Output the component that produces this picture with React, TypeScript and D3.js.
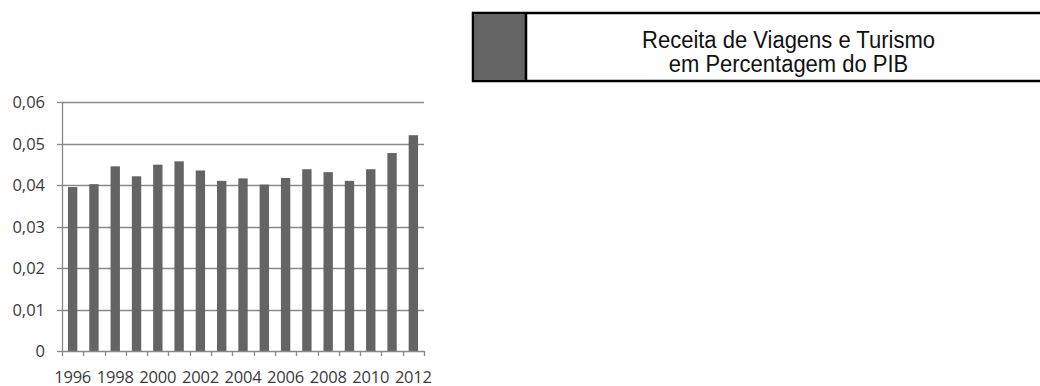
import { useEffect, useRef } from "react"
import * as d3 from "d3"

const years = [
  "1996", "1997", "1998", "1999", "2000", "2001", "2002", "2003", "2004",
  "2005", "2006", "2007", "2008", "2009", "2010", "2011", "2012",
]
const values = [
  0.0395, 0.0402, 0.0445, 0.0421, 0.0449, 0.0457, 0.0435, 0.041, 0.0416,
  0.0401, 0.0417, 0.0438, 0.0431, 0.041, 0.0438, 0.0477, 0.052,
]
const yTicks = [0, 0.01, 0.02, 0.03, 0.04, 0.05, 0.06]
const legendLines = ["Receita de Viagens e Turismo", "em Percentagem do PIB"]

export default function App() {
  const svgRef = useRef(null)

  useEffect(() => {
    if (!svgRef.current) return
    const svg = d3.select(svgRef.current)
    svg.selectAll("*").remove()

    const width = 1040
    const height = 386
    const plot = { left: 62, right: 424, top: 102, bottom: 351 }
    const barColor = "#646464"
    const gridColor = "#898989"
    const textColor = "#3a3a3a"

    const x = d3.scaleBand().domain(years).range([plot.left, plot.right]).paddingInner(0.56).paddingOuter(0.28)
    const xEdge = d3.scaleLinear().domain([0, years.length]).range([plot.left, plot.right])
    const y = d3.scaleLinear().domain([0, 0.06]).range([plot.bottom, plot.top])

    // gridlines
    svg.append("g")
      .selectAll("line")
      .data(yTicks.filter((d) => d > 0))
      .join("line")
      .attr("x1", plot.left)
      .attr("x2", plot.right)
      .attr("y1", (d) => Math.round(y(d)) + 0.5)
      .attr("y2", (d) => Math.round(y(d)) + 0.5)
      .attr("stroke", gridColor)
      .attr("stroke-width", 1.3)

    // bars
    svg.append("g")
      .selectAll("rect")
      .data(values)
      .join("rect")
      .attr("x", (d, i) => x(years[i]))
      .attr("y", (d) => y(d))
      .attr("width", x.bandwidth())
      .attr("height", (d) => plot.bottom - y(d))
      .attr("fill", barColor)

    // y axis
    svg.append("line")
      .attr("x1", plot.left + 0.5).attr("x2", plot.left + 0.5)
      .attr("y1", plot.top).attr("y2", plot.bottom)
      .attr("stroke", gridColor).attr("stroke-width", 1.3)
    svg.append("g")
      .selectAll("line")
      .data(yTicks)
      .join("line")
      .attr("x1", plot.left - 5)
      .attr("x2", plot.left)
      .attr("y1", (d) => Math.round(y(d)) + 0.5)
      .attr("y2", (d) => Math.round(y(d)) + 0.5)
      .attr("stroke", gridColor)
      .attr("stroke-width", 1.3)
    svg.append("g")
      .selectAll("text")
      .data(yTicks)
      .join("text")
      .attr("x", 45)
      .attr("y", (d) => y(d) + 6)
      .attr("text-anchor", "end")
      .attr("font-family", "Open Sans, sans-serif")
      .attr("font-size", 16.5)
      .attr("fill", textColor)
      .text((d) => (d === 0 ? "0" : d3.format(".2f")(d).replace(".", ",")))

    // x axis
    svg.append("line")
      .attr("x1", plot.left).attr("x2", plot.right)
      .attr("y1", plot.bottom + 0.5).attr("y2", plot.bottom + 0.5)
      .attr("stroke", gridColor).attr("stroke-width", 1.3)
    svg.append("g")
      .selectAll("line")
      .data(d3.range(years.length + 1))
      .join("line")
      .attr("x1", (d) => Math.round(xEdge(d)) + 0.5)
      .attr("x2", (d) => Math.round(xEdge(d)) + 0.5)
      .attr("y1", plot.bottom)
      .attr("y2", plot.bottom + 5)
      .attr("stroke", gridColor)
      .attr("stroke-width", 1.3)
    svg.append("g")
      .selectAll("text")
      .data(years.filter((d, i) => i % 2 === 0))
      .join("text")
      .attr("x", (d) => x(d) + x.bandwidth() / 2)
      .attr("y", 382.5)
      .attr("text-anchor", "middle")
      .attr("font-family", "Open Sans, sans-serif")
      .attr("font-size", 16.5)
      .attr("letter-spacing", -0.2)
      .attr("fill", textColor)
      .text((d) => d)

    // legend box
    const legend = svg.append("g")
    legend.append("rect")
      .attr("x", 473).attr("y", 13)
      .attr("width", 600).attr("height", 68)
      .attr("fill", "#fff").attr("stroke", "#000").attr("stroke-width", 2.5)
    legend.append("rect")
      .attr("x", 474).attr("y", 14)
      .attr("width", 52).attr("height", 66)
      .attr("fill", barColor)
    legend.append("line")
      .attr("x1", 526).attr("x2", 526).attr("y1", 13).attr("y2", 81)
      .attr("stroke", "#000").attr("stroke-width", 2.5)
    legend.selectAll("text.lbl")
      .data(legendLines)
      .join("text")
      .attr("class", "lbl")
      .attr("transform", (d, i) => `translate(788.5,${48 + i * 24}) scale(1,1.1)`)
      .attr("text-anchor", "middle")
      .attr("font-family", "Liberation Sans, Arial, sans-serif")
      .attr("font-size", 22)
      .attr("fill", "#111")
      .text((d) => d)

    svg.attr("width", width).attr("height", height).attr("viewBox", [0, 0, width, height])
  }, [])

  return (
    <div style={{ position: "absolute", left: 0, top: 0 }}>
      <svg ref={svgRef} style={{ display: "block", background: "#fff" }}></svg>
    </div>
  )
}
